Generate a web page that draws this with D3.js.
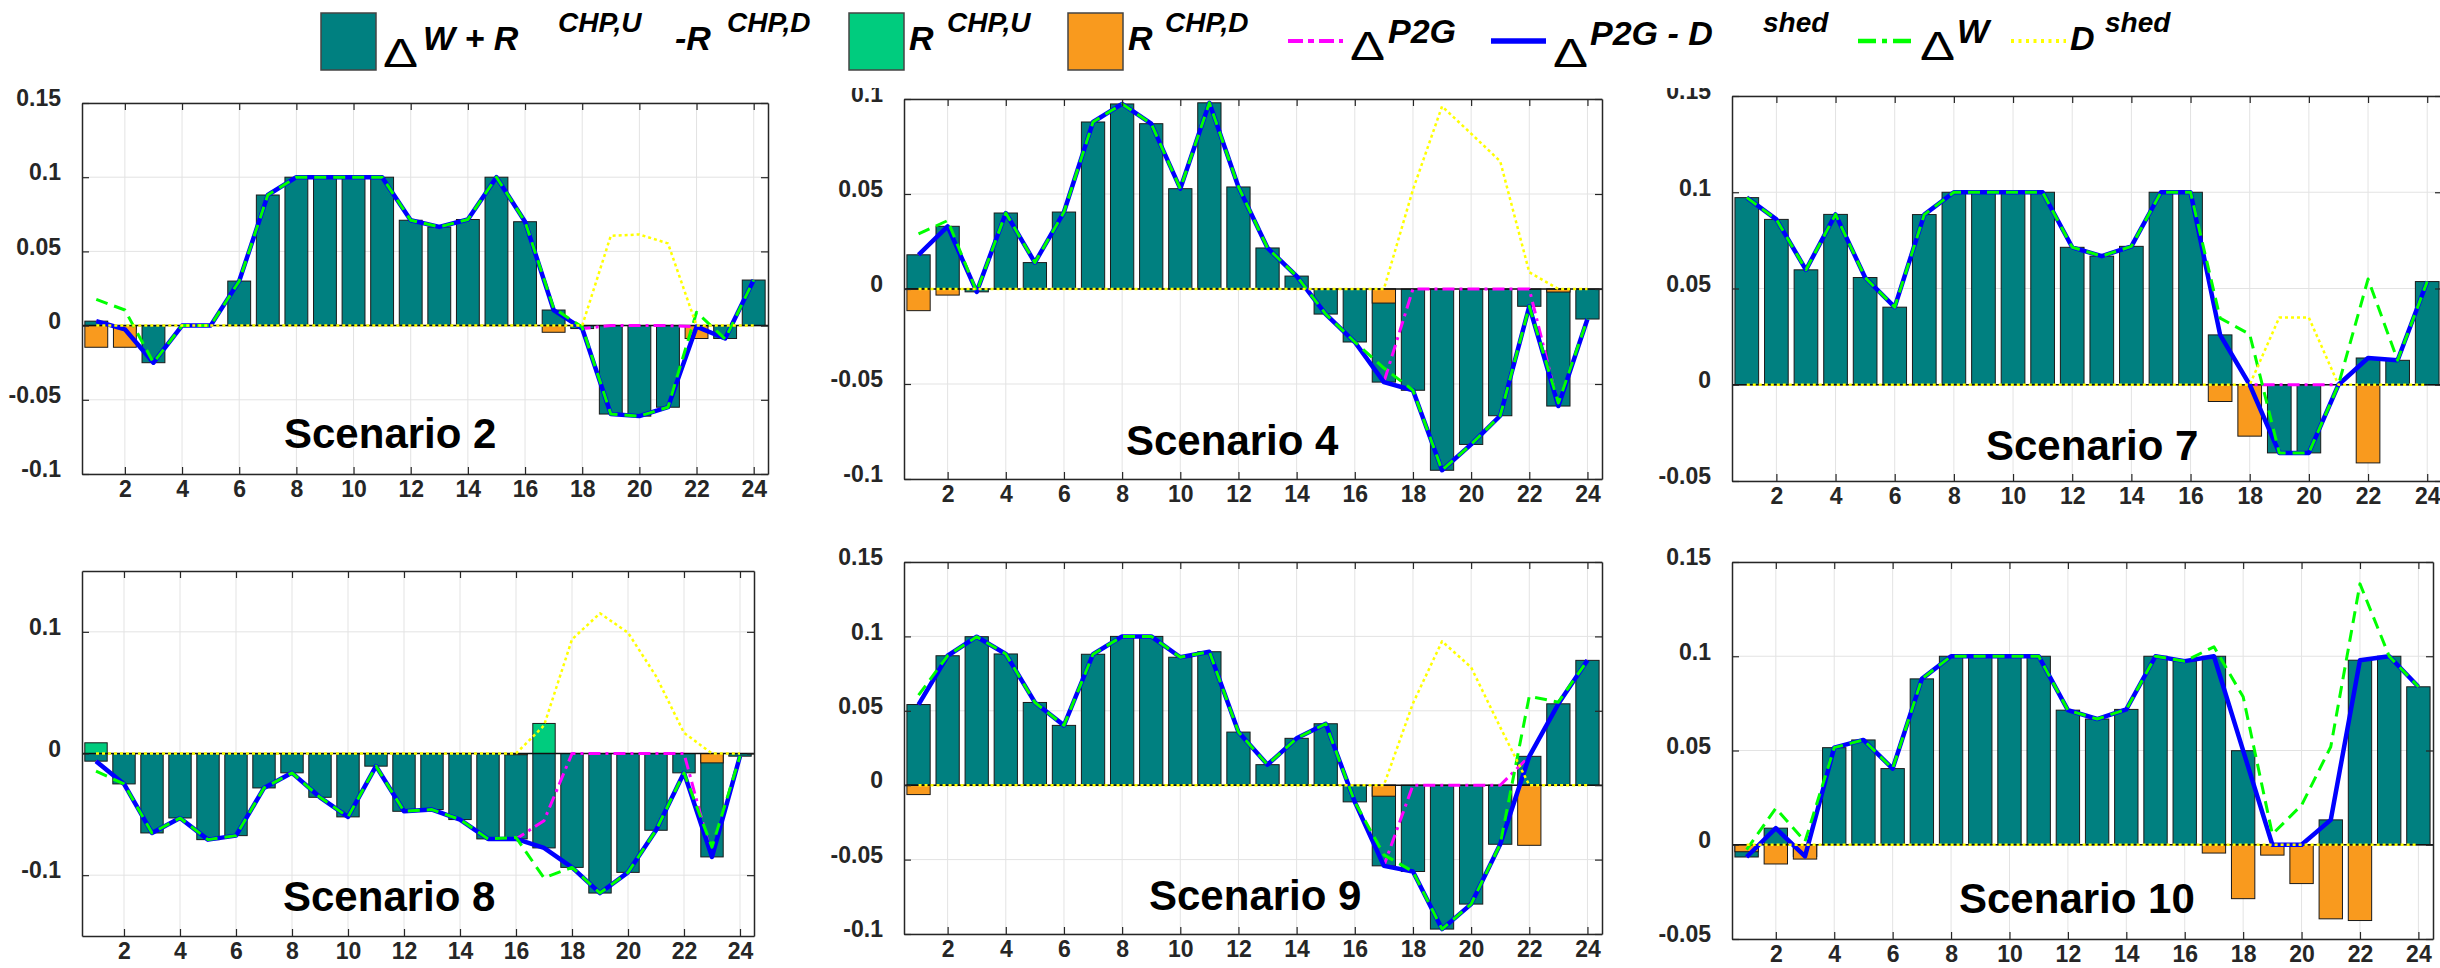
<!DOCTYPE html>
<html>
<head>
<meta charset="utf-8">
<script src="https://cdn.jsdelivr.net/npm/d3@7"></script>
<style>
  body { margin: 0; background: #fff; }
  svg { display: block; }
  text { font-family: "Liberation Sans", Arial, sans-serif; }
</style>
</head>
<body>
<svg id="chart" width="2440" height="968"></svg>
<script>
const hours = [1,2,3,4,5,6,7,8,9,10,11,12,13,14,15,16,17,18,19,20,21,22,23,24]
const xTicks = [2,4,6,8,10,12,14,16,18,20,22,24]

// y tick sets
const ticksS2 = [-0.1,-0.05,0,0.05,0.1,0.15]
const ticksS4 = [-0.1,-0.05,0,0.05,0.1]
const ticksS7 = [-0.05,0,0.05,0.1,0.15]
const ticksS8 = [-0.1,0,0.1]
const ticksS9 = [-0.1,-0.05,0,0.05,0.1,0.15]
const ticksS10 = [-0.05,0,0.05,0.1,0.15]

// Scenario 2
const s2Net  = [0.003,-0.0025,-0.025,0,0,0.030,0.088,0.1,0.1,0.1,0.1,0.071,0.0665,0.0715,0.1,0.070,0.0105,-0.002,-0.0596,-0.061,-0.055,-0.0007,-0.0087,0.0307]
const s2Rup  = [0,0,0,0,0,0,0,0,0,0,0,0,0,0,0,0,0,0,0,0,0,0,0,0]
const s2Rdn  = [-0.0146,-0.0146,0,0,0,0,0,0,0,0,0,0,0,0,0,0,-0.0045,0,0,0,0,-0.0087,0,0]
const s2P2g  = [0.003,-0.0025,-0.025,0,0,0.030,0.088,0.1,0.1,0.1,0.1,0.071,0.0665,0.0715,0.1,0.070,0.0105,-0.002,0,0,0,-0.0007,-0.0087,0.0307]
const s2Dw   = [0.0177,0.0105,-0.025,0,0,0.030,0.088,0.1,0.1,0.1,0.1,0.071,0.0665,0.0715,0.1,0.070,0.0117,-0.001,-0.0596,-0.061,-0.055,0.009,-0.009,0.0307]
const s2Shed = [0,0,0,0,0,0,0,0,0,0,0,0,0,0,0,0,0,0,0.0605,0.0614,0.0554,0,0,0]

// Scenario 4
const s4Net  = [0.018,0.033,-0.0015,0.040,0.0139,0.0405,0.0879,0.0974,0.087,0.0528,0.098,0.0537,0.0216,0.0068,-0.0132,-0.0279,-0.049,-0.0533,-0.0954,-0.0818,-0.0667,-0.0091,-0.0616,-0.0158]
const s4Rup  = [0,0,0,0,0,0,0,0,0,0,0,0,0,0,0,0,0,0,0,0,0,0,0,0]
const s4Rdn  = [-0.0114,-0.0032,0,0,0,0,0,0,0,0,0,0,0,0,0,0,-0.0074,0,0,0,0,0,-0.0016,0]
const s4P2g  = [0.018,0.033,-0.0015,0.040,0.0139,0.0405,0.0879,0.0974,0.087,0.0528,0.098,0.0537,0.0216,0.0068,-0.0132,-0.0279,-0.049,0,0,0,0,0,-0.0616,-0.0158]
const s4Dw   = [0.029,0.036,-0.0015,0.040,0.0139,0.0405,0.0879,0.0974,0.087,0.0528,0.098,0.0537,0.0216,0.0068,-0.0132,-0.0279,-0.0416,-0.0533,-0.0954,-0.0818,-0.0667,-0.0091,-0.060,-0.0158]
const s4Shed = [0,0,0,0,0,0,0,0,0,0,0,0,0,0,0,0,0,0.0523,0.0961,0.0818,0.0672,0.0088,0,0]

// Scenario 7
const s7Net  = [0.0972,0.0859,0.0597,0.0885,0.0557,0.0403,0.0884,0.1,0.1,0.1,0.1,0.0714,0.0668,0.0719,0.1,0.1,0.0259,0,-0.0354,-0.0354,0,0.0139,0.0127,0.0536]
const s7Rup  = [0,0,0,0,0,0,0,0,0,0,0,0,0,0,0,0,0,0,0,0,0,0,0,0]
const s7Rdn  = [0,0,0,0,0,0,0,0,0,0,0,0,0,0,0,0,-0.0087,-0.0267,0,0,0,-0.0406,0,0]
const s7P2g  = [0.0972,0.0859,0.0597,0.0885,0.0557,0.0403,0.0884,0.1,0.1,0.1,0.1,0.0714,0.0668,0.0719,0.1,0.1,0.0259,0,0,0,0,0.0139,0.0127,0.0536]
const s7Dw   = [0.0972,0.0859,0.0597,0.0885,0.0557,0.0403,0.0884,0.1,0.1,0.1,0.1,0.0714,0.0668,0.0719,0.1,0.1,0.0346,0.0262,-0.0354,-0.0354,0,0.0549,0.0127,0.0536]
const s7Shed = [0,0,0,0,0,0,0,0,0,0,0,0,0,0,0,0,0,0,0.0349,0.0349,0,0,0,0]

// Scenario 8
const s8Net  = [-0.0063,-0.025,-0.0653,-0.053,-0.0708,-0.0675,-0.0283,-0.0159,-0.036,-0.0521,-0.0104,-0.0475,-0.0461,-0.0543,-0.0702,-0.0702,-0.0776,-0.0936,-0.1147,-0.0977,-0.0631,-0.0159,-0.085,-0.0022]
const s8Rup  = [0.0088,0,0,0,0,0,0,0,0,0,0,0,0,0,0,0,0.0247,0,0,0,0,0,0,0]
const s8Rdn  = [0,0,0,0,0,0,0,0,0,0,0,0,0,0,0,-0.001,0,0,0,0,0,0,-0.0077,0]
const s8P2g  = [-0.0063,-0.025,-0.0653,-0.053,-0.0708,-0.0675,-0.0283,-0.0159,-0.036,-0.0521,-0.0104,-0.0475,-0.0461,-0.0543,-0.0702,-0.0702,-0.0553,0,0,0,0,0,-0.085,-0.0022]
const s8Dw   = [-0.0145,-0.025,-0.0653,-0.053,-0.0708,-0.0675,-0.0283,-0.0159,-0.036,-0.0521,-0.0104,-0.0475,-0.0461,-0.0543,-0.0702,-0.069,-0.1023,-0.0936,-0.1147,-0.0977,-0.0631,-0.0159,-0.077,-0.0022]
const s8Shed = [0,0,0,0,0,0,0,0,0,0,0,0,0,0,0,0,0.023,0.0938,0.1152,0.0993,0.0636,0.017,0,0]

// Scenario 9
const s9Net  = [0.0542,0.087,0.0998,0.0882,0.0556,0.0402,0.088,0.1,0.1,0.086,0.0897,0.0357,0.0138,0.0315,0.0413,-0.0112,-0.0542,-0.058,-0.0967,-0.0799,-0.0397,0.0194,0.0547,0.0839]
const s9Rup  = [0,0,0,0,0,0,0,0,0,0,0,0,0,0,0,0,0,0,0,0,0,0,0,0]
const s9Rdn  = [-0.0063,0,0,0,0,0,0,0,0,0,0,0,0,0,0,0,-0.0074,0,0,0,0,-0.0404,0,0]
const s9P2g  = [0.0542,0.087,0.0998,0.0882,0.0556,0.0402,0.088,0.1,0.1,0.086,0.0897,0.0357,0.0138,0.0315,0.0413,-0.0112,-0.0542,0,0,0,0,0.0194,0.0547,0.0839]
const s9Dw   = [0.0605,0.087,0.0998,0.0882,0.0556,0.0402,0.088,0.1,0.1,0.086,0.0897,0.0357,0.0138,0.0315,0.0413,-0.0112,-0.0468,-0.058,-0.0967,-0.0799,-0.0397,0.0598,0.0558,0.0839]
const s9Shed = [0,0,0,0,0,0,0,0,0,0,0,0,0,0,0,0,0,0.055,0.0967,0.0792,0.039,0,0,0]

// Scenario 10
const s10Net  = [-0.0065,0.0088,-0.0062,0.0515,0.0556,0.0404,0.088,0.1,0.1,0.1,0.1,0.0714,0.0667,0.0718,0.1,0.0974,0.1,0.0499,0,0,0.0132,0.0979,0.1,0.0838]
const s10Rup  = [0,0,0,0,0,0,0,0,0,0,0,0,0,0,0,0,0,0,0,0,0,0,0,0]
const s10Rdn  = [-0.0037,-0.0102,-0.0076,0,0,0,0,0,0,0,0,0,0,0,0,0,-0.0044,-0.0286,-0.0055,-0.0206,-0.0393,-0.0402,0,0]
const s10P2g  = [-0.0065,0.0088,-0.0062,0.0515,0.0556,0.0404,0.088,0.1,0.1,0.1,0.1,0.0714,0.0667,0.0718,0.1,0.0974,0.1,0.0499,0,0,0.0132,0.0979,0.1,0.0838]
const s10Dw   = [-0.0026,0.0194,0.0018,0.0515,0.0556,0.0404,0.088,0.1,0.1,0.1,0.1,0.0714,0.0667,0.0718,0.1,0.0974,0.105,0.0785,0.0056,0.021,0.052,0.1384,0.1,0.0838]
const s10Shed = [0,0,0,0,0,0,0,0,0,0,0,0,0,0,0,0,0,0,0,0,0,0,0,0]

const COLORS = {net:'#008080', rup:'#00CC7E', rdn:'#F99A1E', p2g:'#FF00FF', p2gShed:'#0000FF', dw:'#00FF00', shed:'#FFFF00'}
const AXIS_COLOR = '#262626'

const panels = [
  {name:'Scenario 2',  net:s2Net,  rup:s2Rup,  rdn:s2Rdn,  p2g:s2P2g,  dw:s2Dw,  shed:s2Shed,  yDom:[-0.1,0.15],  yTicks:ticksS2,  box:[82,103,768,474],   label:[202,345]},
  {name:'Scenario 4',  net:s4Net,  rup:s4Rup,  rdn:s4Rdn,  p2g:s4P2g,  dw:s4Dw,  shed:s4Shed,  yDom:[-0.1,0.1],   yTicks:ticksS4,  box:[904,99,1602,479],  label:[222,356]},
  {name:'Scenario 7',  net:s7Net,  rup:s7Rup,  rdn:s7Rdn,  p2g:s7P2g,  dw:s7Dw,  shed:s7Shed,  yDom:[-0.05,0.15], yTicks:ticksS7,  box:[1732,96,2442,481], label:[254,364]},
  {name:'Scenario 8',  net:s8Net,  rup:s8Rup,  rdn:s8Rdn,  p2g:s8P2g,  dw:s8Dw,  shed:s8Shed,  yDom:[-0.15,0.15], yTicks:ticksS8,  box:[82,571,754,936],   label:[201,340]},
  {name:'Scenario 9',  net:s9Net,  rup:s9Rup,  rdn:s9Rdn,  p2g:s9P2g,  dw:s9Dw,  shed:s9Shed,  yDom:[-0.1,0.15],  yTicks:ticksS9,  box:[904,562,1602,934], label:[245,348]},
  {name:'Scenario 10', net:s10Net, rup:s10Rup, rdn:s10Rdn, p2g:s10P2g, dw:s10Dw, shed:s10Shed, yDom:[-0.05,0.15], yTicks:ticksS10, box:[1732,562,2433,939],label:[227,351]}
]

const svg = d3.select('#chart')
const fmt = d => String(+d.toFixed(2))

function drawPanel(p){
  const [x0, y0, x1, y1] = p.box
  const x = d3.scaleLinear().domain([0.5, 24.5]).range([x0, x1])
  const y = d3.scaleLinear().domain(p.yDom).range([y1, y0])
  const g = svg.append('g').attr('class', 'panel')

  // grid
  g.append('g').selectAll('line').data(xTicks).enter().append('line')
    .attr('x1', d => x(d)).attr('x2', d => x(d))
    .attr('y1', y0).attr('y2', y1)
    .attr('stroke', '#e3e3e3').attr('stroke-width', 1)
  g.append('g').selectAll('line').data(p.yTicks).enter().append('line')
    .attr('x1', x0).attr('x2', x1)
    .attr('y1', d => y(d)).attr('y2', d => y(d))
    .attr('stroke', '#e3e3e3').attr('stroke-width', 1)

  // bars: net first, reserves overlaid
  const half = 0.4
  function bars(vals, color){
    g.append('g').selectAll('rect')
      .data(hours.map((h, i) => ({h: h, v: vals[i]})).filter(d => d.v !== 0))
      .enter().append('rect')
        .attr('x', d => x(d.h - half))
        .attr('width', d => x(d.h + half) - x(d.h - half))
        .attr('y', d => y(Math.max(0, d.v)))
        .attr('height', d => Math.abs(y(d.v) - y(0)))
        .attr('fill', color)
        .attr('stroke', '#1a1a1a')
        .attr('stroke-width', 1)
  }
  bars(p.net, COLORS.net)
  bars(p.rup, COLORS.rup)
  bars(p.rdn, COLORS.rdn)

  // bar baseline
  g.append('line')
    .attr('x1', x0).attr('x2', x1)
    .attr('y1', y(0)).attr('y2', y(0))
    .attr('stroke', '#111').attr('stroke-width', 1.5)

  const line = vals => d3.line().x((d, i) => x(hours[i])).y(d => y(d))(vals)
  function path(vals, color, width, dash){
    g.append('path')
      .attr('d', line(vals))
      .attr('fill', 'none')
      .attr('stroke', color)
      .attr('stroke-width', width)
      .attr('stroke-dasharray', dash)
      .attr('stroke-linejoin', 'round')
  }
  path(p.p2g, COLORS.p2g, 3, '12,5,3,5')
  path(p.net, COLORS.p2gShed, 4.5, null)
  path(p.dw, COLORS.dw, 3, '12,7')
  path(p.shed, COLORS.shed, 2.5, '3,3')

  // axes
  const xb = g.append('g').attr('transform', 'translate(0,' + y1 + ')')
    .call(d3.axisBottom(x).tickValues(xTicks).tickSizeInner(-7).tickSizeOuter(0).tickPadding(7).tickFormat(d3.format('d')))
  const xt = g.append('g').attr('transform', 'translate(0,' + y0 + ')')
    .call(d3.axisTop(x).tickValues(xTicks).tickSizeInner(-7).tickSizeOuter(0).tickFormat(''))
  const yl = g.append('g').attr('transform', 'translate(' + x0 + ',0)')
    .call(d3.axisLeft(y).tickValues(p.yTicks).tickSizeInner(-7).tickSizeOuter(0).tickPadding(21).tickFormat(fmt))
  const yr = g.append('g').attr('transform', 'translate(' + x1 + ',0)')
    .call(d3.axisRight(y).tickValues(p.yTicks).tickSizeInner(-7).tickSizeOuter(0).tickFormat(''))

  for (const a of [xb, xt, yl, yr]) {
    a.select('.domain').attr('stroke', AXIS_COLOR).attr('stroke-width', 1.5)
    a.selectAll('.tick line').attr('stroke', AXIS_COLOR).attr('stroke-width', 1.2)
    a.selectAll('.tick text')
      .attr('fill', AXIS_COLOR)
      .attr('font-size', 23)
      .attr('font-weight', 'bold')
      .attr('font-family', '"Liberation Sans", Arial, sans-serif')
  }
  yl.selectAll('.tick text').attr('dy', '0.12em')

  g.append('text')
    .attr('x', x0 + p.label[0])
    .attr('y', y0 + p.label[1])
    .attr('font-size', 42)
    .attr('font-weight', 'bold')
    .attr('fill', '#000')
    .text(p.name)
}

panels.forEach(drawPanel)

// legend (white background box, as in the exported figure)
const legendItems = [
  {kind:'bar',  color:COLORS.net,     x:321, parts:[['Δ',383,67,'d'],['W + R',423,50,'m'],['CHP,U',558,32,'s'],['-R',675,50,'m'],['CHP,D',727,32,'s']]},
  {kind:'bar',  color:COLORS.rup,     x:849, parts:[['R',909,50,'m'],['CHP,U',947,32,'s']]},
  {kind:'bar',  color:COLORS.rdn,     x:1068, parts:[['R',1128,50,'m'],['CHP,D',1165,32,'s']]},
  {kind:'line', color:COLORS.p2g,     x:1288, width:4, dash:'15,5,6,5', parts:[['Δ',1350,60,'d'],['P2G',1388,43,'m']]},
  {kind:'line', color:COLORS.p2gShed, x:1491, width:5.5, dash:null, parts:[['Δ',1553,67,'d'],['P2G - D',1590,45,'m'],['shed',1763,32,'s']]},
  {kind:'line', color:COLORS.dw,      x:1858, width:4.5, dash:'18,6,5,6', parts:[['Δ',1920,60,'d'],['W',1957,43,'m']]},
  {kind:'line', color:COLORS.shed,    x:2011, width:4, dash:'3,4.5', parts:[['D',2070,50,'m'],['shed',2105,32,'s']]}
]

const leg = svg.append('g').attr('class', 'legend')
leg.append('rect').attr('x', 0).attr('y', 0).attr('width', 2440).attr('height', 88).attr('fill', '#fff')

for (const it of legendItems) {
  if (it.kind === 'bar') {
    leg.append('rect')
      .attr('x', it.x).attr('y', 13).attr('width', 55).attr('height', 57)
      .attr('fill', it.color).attr('stroke', '#444').attr('stroke-width', 1.5)
  } else {
    leg.append('line')
      .attr('x1', it.x).attr('x2', it.x + 55).attr('y1', 41).attr('y2', 41)
      .attr('stroke', it.color).attr('stroke-width', it.width)
      .attr('stroke-dasharray', it.dash)
  }
  for (const [txt, px, py, st] of it.parts) {
    const t = leg.append('text').attr('x', px).attr('y', py).attr('fill', '#000').text(txt)
    if (st === 'd') {
      t.attr('font-size', 40).attr('textLength', 35).attr('lengthAdjust', 'spacingAndGlyphs')
    } else {
      t.attr('font-size', st === 'm' ? 34 : 28).attr('font-weight', 'bold').attr('font-style', 'italic')
    }
  }
}
</script>
</body>
</html>
